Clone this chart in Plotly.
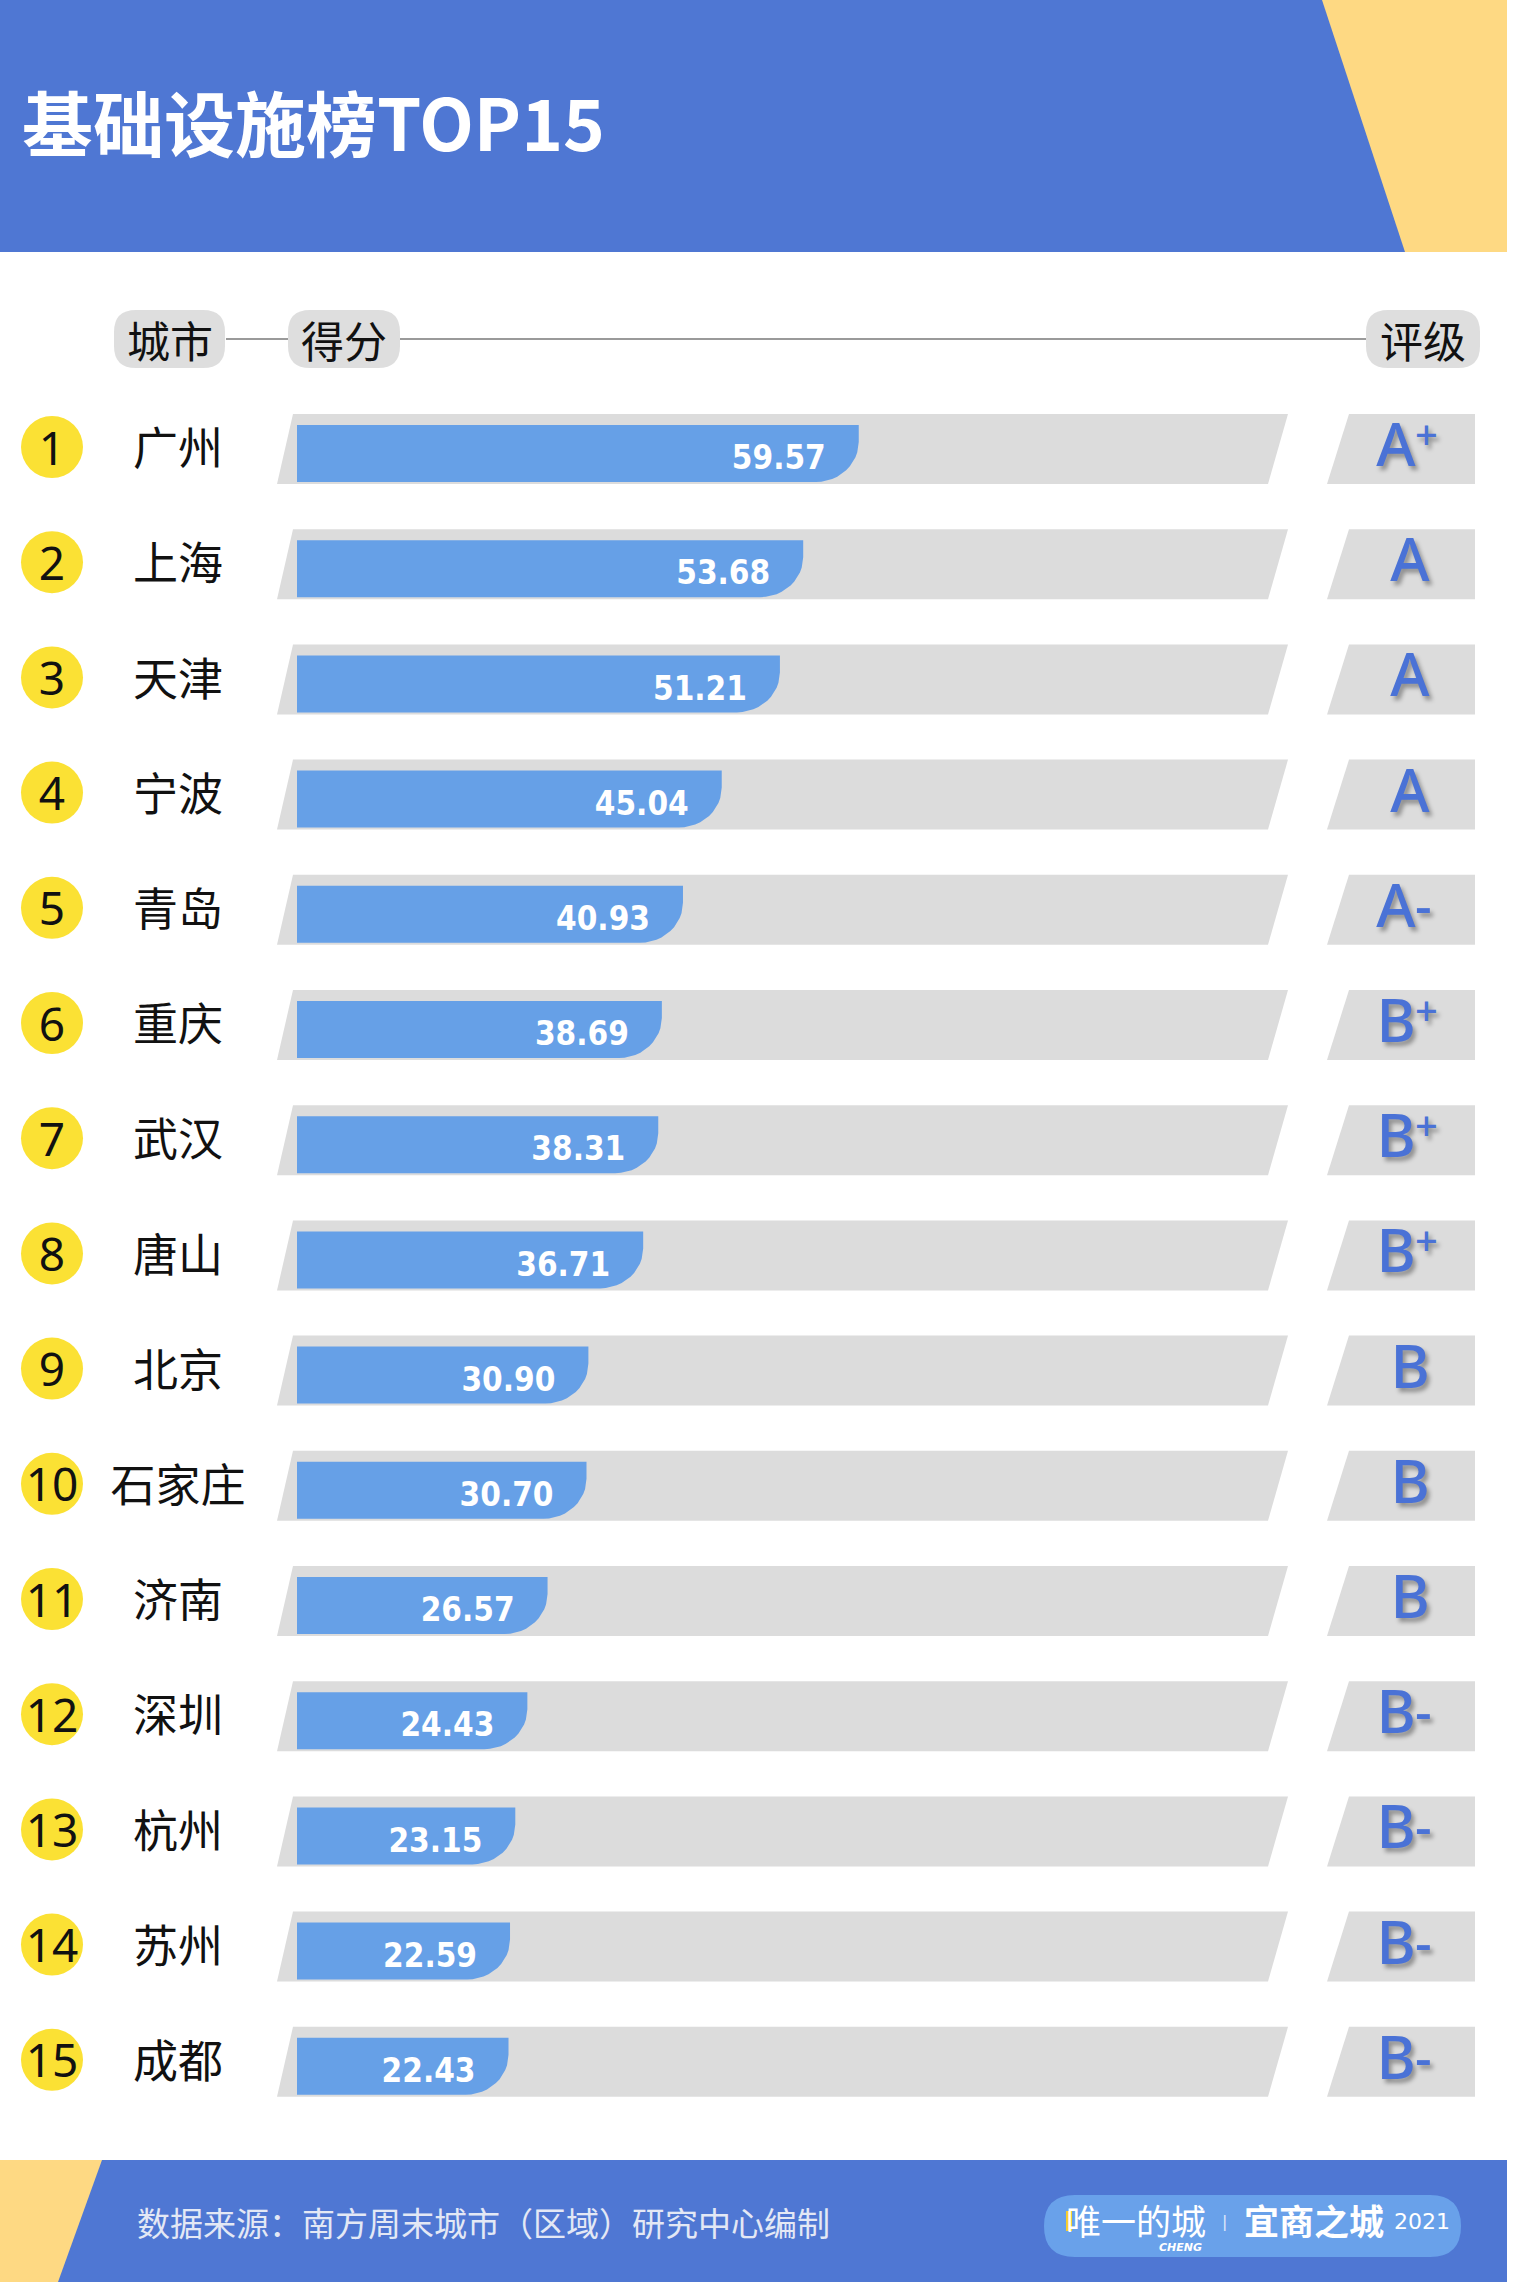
import math
import plotly.graph_objects as go

# ---- data -------------------------------------------------------------
cities = ["广州", "上海", "天津", "宁波", "青岛", "重庆", "武汉", "唐山",
          "北京", "石家庄", "济南", "深圳", "杭州", "苏州", "成都"]
scores = [59.57, 53.68, 51.21, 45.04, 40.93, 38.69, 38.31, 36.71,
          30.90, 30.70, 26.57, 24.43, 23.15, 22.59, 22.43]
grades = ["A+", "A", "A", "A", "A-", "B+", "B+", "B+",
          "B", "B", "B", "B-", "B-", "B-", "B-"]
ranks = list(range(1, len(cities) + 1))

title_text = "基础设施榜TOP15"
col_headers = ["城市", "得分", "评级"]
source_text = "数据来源：南方周末城市（区域）研究中心编制"

# ---- canvas / scale ----------------------------------------------------
W, H = 1517, 2282
PX_PER_UNIT = 9.43      # horizontal pixels per score point
X0_PX = 297             # pixel where score 0 sits
ROW_PX = 115.2          # vertical pitch of one row
ROW1_PX = 449           # pixel centre of the first row

BLUE = "#4f77d3"
YELLOW = "#fed983"
BAR = "#66a0e7"
BAND = "#dcdcdc"
BADGE = "#fbe134"
GRADE = "#4a72d6"


def xv(px):
    return (px - X0_PX) / PX_PER_UNIT


def yr(py):
    return 1 + (py - ROW1_PX) / ROW_PX


def dx(px):
    return px / PX_PER_UNIT


def dy(py):
    return py / ROW_PX


def poly_path(points):
    return "M " + " L ".join(f"{x},{y}" for x, y in points) + " Z"


def round_rect(x0, y0, x1, y1, r):
    """Rounded rectangle given in pixels, returned as a data-space path."""
    P = lambda a, b: f"{xv(a)},{yr(b)}"
    return (f"M {P(x0 + r, y0)} L {P(x1 - r, y0)} Q {P(x1, y0)} {P(x1, y0 + r)} "
            f"L {P(x1, y1 - r)} Q {P(x1, y1)} {P(x1 - r, y1)} "
            f"L {P(x0 + r, y1)} Q {P(x0, y1)} {P(x0, y1 - r)} "
            f"L {P(x0, y0 + r)} Q {P(x0, y0)} {P(x0 + r, y0)} Z")


shapes = []

# header banner
shapes.append(dict(type="path", path=poly_path([(xv(0), yr(0)), (xv(1507), yr(0)),
                                                 (xv(1507), yr(252)), (xv(0), yr(252))]),
                   fillcolor=BLUE, line_width=0, layer="below"))
shapes.append(dict(type="path", path=poly_path([(xv(1322), yr(0)), (xv(1507), yr(0)),
                                                 (xv(1507), yr(252)), (xv(1405), yr(252))]),
                   fillcolor=YELLOW, line_width=0, layer="below"))

# column header guide line and pills
for a, b in [(226, 288), (400, 1366)]:
    shapes.append(dict(type="line", x0=xv(a), x1=xv(b), y0=yr(339), y1=yr(339),
                       line=dict(color="#9a9a9a", width=2), layer="below"))
pill_spans = [(114, 225), (288, 400), (1366, 1480)]
for a, b in pill_spans:
    shapes.append(dict(type="path", path=round_rect(a, 310, b, 368, 22),
                       fillcolor="#dedede", line_width=0, layer="below"))

# grey track behind each bar and grade plate
half_band = dy(35)
for r in ranks:
    top, bot = r - half_band, r + half_band
    shapes.append(dict(type="path",
                       path=poly_path([(xv(293), top), (xv(1288), top),
                                       (xv(1268), bot), (xv(277), bot)]),
                       fillcolor=BAND, line_width=0, layer="below"))
    shapes.append(dict(type="path",
                       path=poly_path([(xv(1349), top), (xv(1475), top),
                                       (xv(1475), bot), (xv(1327), bot)]),
                       fillcolor=BAND, line_width=0, layer="below"))

# footer band
shapes.append(dict(type="path", path=poly_path([(xv(0), yr(2160)), (xv(1507), yr(2160)),
                                                 (xv(1507), yr(2282)), (xv(0), yr(2282))]),
                   fillcolor=BLUE, line_width=0, layer="below"))
shapes.append(dict(type="path", path=poly_path([(xv(0), yr(2160)), (xv(102), yr(2160)),
                                                 (xv(58), yr(2282)), (xv(0), yr(2282))]),
                   fillcolor=YELLOW, line_width=0, layer="below"))
shapes.append(dict(type="path", path=round_rect(1044, 2195, 1461, 2257, 31),
                   fillcolor="#69a1ea", line_width=0, layer="below"))
shapes.append(dict(type="rect", x0=xv(1066), x1=xv(1072), y0=yr(2211), y1=yr(2231),
                   fillcolor="#f6cf2b", line_width=0, layer="above"))

# ---- bars: flat left, rounded lower-right corner ------------------------
bar_top, bar_bot = dy(-24), dy(33)
rx, ry = dx(43), dy(40)
bx, by = [], []
for r, v in zip(ranks, scores):
    pts = [(0, r + bar_top), (v, r + bar_top), (v, r + bar_bot - ry)]
    for k in range(1, 13):
        t = math.radians(90 * k / 12)
        pts.append((v - rx + rx * math.cos(t), r + bar_bot - ry + ry * math.sin(t)))
    pts.append((0, r + bar_bot))
    pts.append(pts[0])
    bx += [p[0] for p in pts] + [None]
    by += [p[1] for p in pts] + [None]

fig = go.Figure()
fig.add_trace(go.Scatter(x=bx, y=by, mode="lines", fill="toself", fillcolor=BAR,
                         line=dict(width=0, color=BAR), hoverinfo="skip"))

# score labels inside the bars
fig.add_trace(go.Scatter(
    x=[v - dx(33) for v in scores], y=[r + dy(12) for r in ranks],
    mode="text", text=[f"{v:.2f}" for v in scores], textposition="middle left",
    textfont=dict(family="DejaVu Sans Condensed", size=33, color="white", weight="bold"),
    hoverinfo="skip"))

# rank badges
fig.add_trace(go.Scatter(
    x=[xv(52)] * len(ranks), y=[r - dy(2) for r in ranks], mode="markers",
    marker=dict(size=62, color=BADGE, line=dict(width=0)), hoverinfo="skip"))
fig.add_trace(go.Scatter(
    x=[xv(52)] * len(ranks), y=[r + dy(4) for r in ranks], mode="text",
    text=[str(r) for r in ranks], textposition="middle center",
    textfont=dict(family="Noto Sans", size=46, color="#111111"),
    hoverinfo="skip"))

# city names
fig.add_trace(go.Scatter(
    x=[xv(178)] * len(ranks), y=[r + dy(5) for r in ranks], mode="text", text=cities,
    textposition="middle center",
    textfont=dict(family="Noto Sans CJK SC", size=45, color="#111111"),
    hoverinfo="skip"))

# grades: the letter, then a raised plus or a mid-height dash
grade_font = dict(family="Noto Sans", color=GRADE, weight=500,
                  shadow="3px 4px 4px rgba(0,0,0,0.35)")
fig.add_trace(go.Scatter(
    x=[xv(1410) if len(g) == 1 else xv(1396) for g in grades],
    y=[r + dy(2) for r in ranks], mode="text",
    text=[g[0] for g in grades], textposition="middle center",
    textfont=dict(size=60, **grade_font), hoverinfo="skip"))
plus_rows = [(r, g[1]) for r, g in zip(ranks, grades) if g.endswith("+")]
dash_rows = [(r, g[1]) for r, g in zip(ranks, grades) if g.endswith("-")]
fig.add_trace(go.Scatter(
    x=[xv(1415)] * len(plus_rows), y=[r - dy(10) for r, _ in plus_rows], mode="text",
    text=[s for _, s in plus_rows], textposition="middle right",
    textfont=dict(size=40, **grade_font), hoverinfo="skip"))
fig.add_trace(go.Scatter(
    x=[xv(1415)] * len(dash_rows), y=[r + dy(2) for r, _ in dash_rows], mode="text",
    text=[s for _, s in dash_rows], textposition="middle right",
    textfont=dict(size=52, **grade_font), hoverinfo="skip"))

annotations = [
    dict(x=xv(20), y=yr(120), text=f"<b>{title_text}</b>", showarrow=False,
         xanchor="left", yanchor="middle",
         font=dict(family="Noto Sans CJK SC", size=71, color="white")),
    dict(x=xv(135), y=yr(2222), text=source_text, showarrow=False,
         xanchor="left", yanchor="middle",
         font=dict(family="Noto Sans CJK SC", size=33, color="#e3e8f5")),
    dict(x=xv(1064), y=yr(2219), text="唯一的城", showarrow=False,
         xanchor="left", yanchor="middle",
         font=dict(family="Noto Sans CJK SC", size=35, color="white")),
    dict(x=xv(1180), y=yr(2247), text="<b><i>CHENG</i></b>", showarrow=False,
         xanchor="center", yanchor="middle",
         font=dict(family="DejaVu Sans", size=11, color="white")),
    dict(x=xv(1224), y=yr(2221), text="|", showarrow=False,
         xanchor="center", yanchor="middle",
         font=dict(family="DejaVu Sans", size=16, color="#dfe8fb")),
    dict(x=xv(1242), y=yr(2219), text="<b>宜商之城</b>", showarrow=False,
         xanchor="left", yanchor="middle",
         font=dict(family="Noto Sans CJK SC", size=35, color="white")),
    dict(x=xv(1392), y=yr(2221), text="2021", showarrow=False,
         xanchor="left", yanchor="middle",
         font=dict(family="DejaVu Sans", size=22, color="white")),
]
for (a, b), label in zip(pill_spans, col_headers):
    annotations.append(dict(x=xv((a + b) / 2), y=yr(339), text=label, showarrow=False,
                            xanchor="center", yanchor="middle",
                            font=dict(family="Noto Sans CJK SC", size=43, color="#111111")))

fig.update_layout(
    width=W, height=H, margin=dict(l=0, r=0, t=0, b=0),
    paper_bgcolor="white", plot_bgcolor="white", showlegend=False,
    xaxis=dict(range=[xv(0), xv(W)], visible=False, fixedrange=True),
    yaxis=dict(range=[yr(H), yr(0)], visible=False, fixedrange=True),
    shapes=shapes, annotations=annotations,
)

fig.write_html("out.html", config={"displayModeBar": False})
